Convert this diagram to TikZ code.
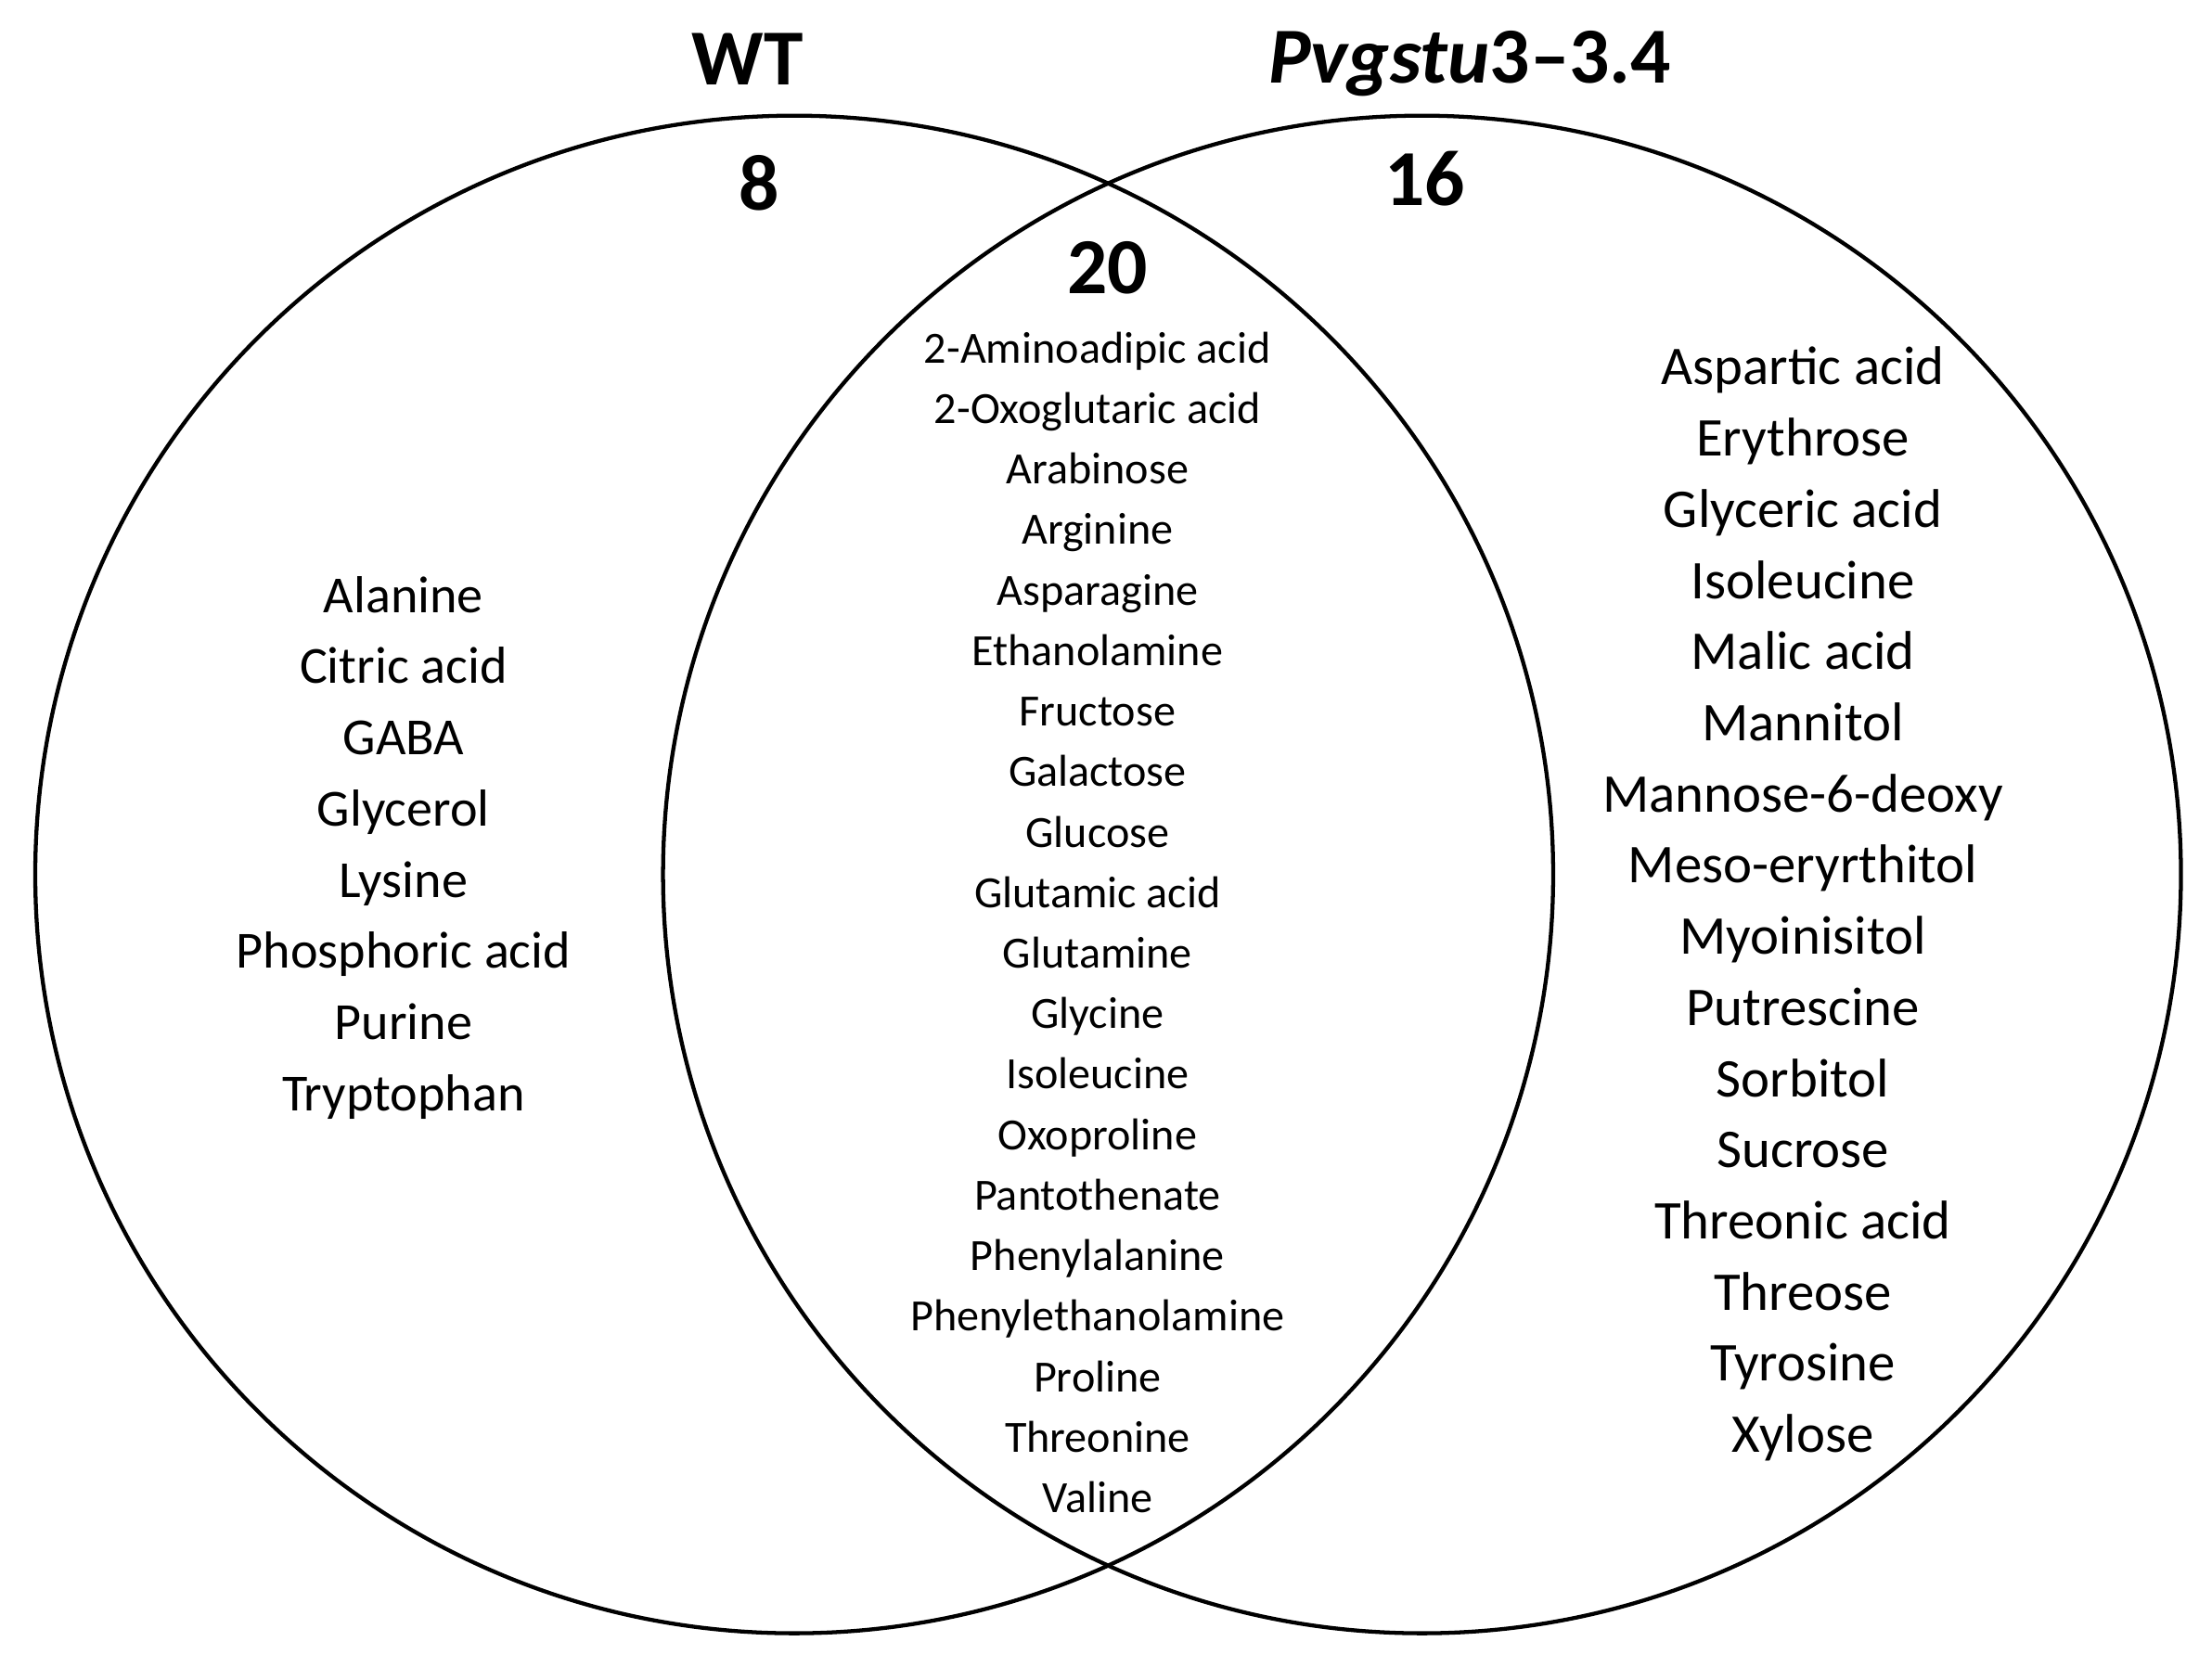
\documentclass[tikz,border=0pt]{standalone}
\usepackage{fontspec}
\setmainfont{Carlito}
\usetikzlibrary{positioning}

\begin{document}
\begin{tikzpicture}[x=0.01cm, y=-0.01cm,
    setcircle/.style={draw=black, line width=0.8pt},
    setlist/.style={align=center, font=#1},
    settitle/.style={font=\fontsize{16}{18}\selectfont\bfseries},
    setcount/.style={font=\fontsize{16}{18}\selectfont\bfseries},
]
\useasboundingbox (0,0) rectangle (1568,1191);

\draw[setcircle] (563,620) circle (538);
\draw[setcircle] (1008,620) circle (538);

\node[settitle] (wt) at (530,42) {WT};
\node[settitle] (mut) at (1042,45) {\textit{Pvgstu}3--3.4};

\node[setcount] (nwt) at (538,130) {8};
\node[setcount] (nmut) at (1010,127) {16};
\node[setcount] (nboth) at (785,190) {20};

\node[setlist={\fontsize{10.5}{14.35}\selectfont}] (listwt) at (286,601) {Alanine\\Citric acid\\GABA\\Glycerol\\Lysine\\Phosphoric acid\\Purine\\Tryptophan};

\node[setlist={\fontsize{9}{12.2}\selectfont}] (listboth) at (778,654) {2-Aminoadipic acid\\2-Oxoglutaric acid\\Arabinose\\Arginine\\Asparagine\\Ethanolamine\\Fructose\\Galactose\\Glucose\\Glutamic acid\\Glutamine\\Glycine\\Isoleucine\\Oxoproline\\Pantothenate\\Phenylalanine\\Phenylethanolamine\\Proline\\Threonine\\Valine};

\node[setlist={\fontsize{11}{14.35}\selectfont}] (listmut) at (1278,641) {Aspartic acid\\Erythrose\\Glyceric acid\\Isoleucine\\Malic acid\\Mannitol\\Mannose-6-deoxy\\Meso-eryrthitol\\Myoinisitol\\Putrescine\\Sorbitol\\Sucrose\\Threonic acid\\Threose\\Tyrosine\\Xylose};

\end{tikzpicture}
\end{document}
